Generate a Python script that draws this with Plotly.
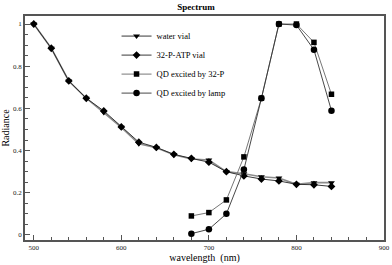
import plotly.graph_objects as go

wl_vial = [500, 520, 540, 560, 580, 600, 620, 640, 660, 680, 700, 720, 740, 760, 780, 800, 820, 840]
water_vial = [1.0, 0.885, 0.73, 0.648, 0.58, 0.51, 0.432, 0.413, 0.38, 0.36, 0.355, 0.30, 0.29, 0.276, 0.27, 0.24, 0.248, 0.248]
atp_vial = [1.0, 0.885, 0.73, 0.648, 0.588, 0.512, 0.44, 0.415, 0.382, 0.363, 0.345, 0.30, 0.28, 0.265, 0.256, 0.24, 0.238, 0.23]

wl_qd = [680, 700, 720, 740, 760, 780, 800, 820, 840]
qd_32p = [0.09, 0.106, 0.166, 0.37, 0.648, 1.0, 1.0, 0.913, 0.667]
qd_lamp = [0.006, 0.027, 0.10, 0.31, 0.648, 1.0, 0.995, 0.878, 0.589]

x_ticks = [500, 600, 700, 800, 900]
y_ticks = [0, 0.2, 0.4, 0.6, 0.8, 1]
y_labels = ["0", "0.2", "0.4", "0.6", "0.8", "1"]

FONT = "Liberation Serif"

fig = go.Figure()
fig.add_trace(go.Scatter(x=wl_vial, y=water_vial, name="water vial", mode="lines+markers",
                         line=dict(color="#8c8c8c", width=1.6),
                         marker=dict(symbol="triangle-down", size=6, color="black")))
fig.add_trace(go.Scatter(x=wl_vial, y=atp_vial, name="32-P-ATP vial", mode="lines+markers",
                         line=dict(color="#222222", width=0.9),
                         marker=dict(symbol="diamond", size=6, color="black")))
fig.add_trace(go.Scatter(x=wl_qd, y=qd_32p, name="QD excited by 32-P", mode="lines+markers",
                         line=dict(color="#777777", width=1.0),
                         marker=dict(symbol="square", size=5.5, color="black")))
fig.add_trace(go.Scatter(x=wl_qd, y=qd_lamp, name="QD excited by lamp", mode="lines+markers",
                         line=dict(color="#333333", width=0.9),
                         marker=dict(symbol="circle", size=6.5, color="black")))

axis_common = dict(showgrid=False, zeroline=False, showline=True, linecolor="#555555", linewidth=1.5,
                   mirror=True, ticks="inside", tickcolor="#555555", ticklen=5, tickwidth=1,
                   automargin=False,
                   tickfont=dict(family=FONT, size=7, color="#222222"))

fig.update_xaxes(range=[490, 900], tickvals=x_ticks,
                 minor=dict(dtick=20, ticks="inside", ticklen=3, tickcolor="#555555"),
                 title=dict(text="wavelength  (nm)", font=dict(family=FONT, size=10, color="black"), standoff=2),
                 **axis_common)
fig.update_yaxes(range=[-0.024, 1.038], tickvals=y_ticks, ticktext=y_labels,
                 minor=dict(dtick=0.05, ticks="inside", ticklen=3, tickcolor="#555555"),
                 title=dict(text="Radiance", font=dict(family=FONT, size=10, color="black"), standoff=2),
                 **axis_common)

fig.update_layout(
    width=392, height=265,
    margin=dict(l=25, r=8, t=16, b=25),
    paper_bgcolor="white", plot_bgcolor="white",
    title=dict(text="<b>Spectrum</b>", x=0.5, xanchor="center", y=0.975, yanchor="middle",
               font=dict(family=FONT, size=9, color="black"), automargin=False),
    legend=dict(x=0.255, y=0.975, xanchor="left", yanchor="top", bgcolor="rgba(0,0,0,0)",
                font=dict(family=FONT, size=8.5, color="black"), tracegroupgap=0, itemwidth=30),
    showlegend=True,
)

fig.write_html("out.html", config={"displayModeBar": False},
               post_script="document.body.style.margin='0px';")
